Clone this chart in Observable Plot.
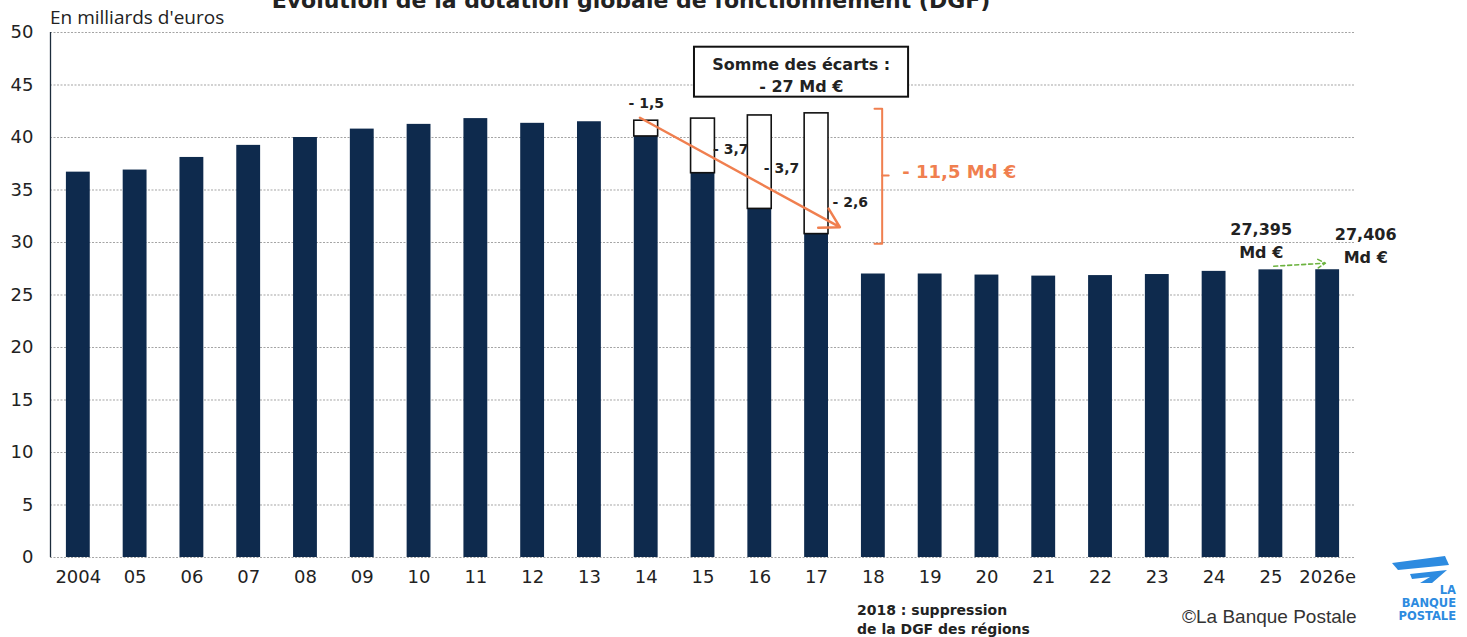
<!DOCTYPE html>
<html>
<head>
<meta charset="utf-8">
<script src="https://cdn.jsdelivr.net/npm/d3@7"></script>
<script src="https://cdn.jsdelivr.net/npm/@observablehq/plot@0.6"></script>
<style>
  html, body { margin: 0; padding: 0; background: #fff; }
  #wrap { position: relative; width: 1467px; height: 637px; overflow: hidden; background: #fff; }
  #wrap > svg { position: absolute; left: 0; top: 0; }
</style>
</head>
<body>
<div id="wrap"></div>
<script>
// ---- Data ----
const labels = ["2004","05","06","07","08","09","10","11","12","13","14","15","16","17","18","19","20","21","22","23","24","25","2026e"];
const dgf = [36.7, 36.9, 38.1, 39.25, 40.0, 40.8, 41.25, 41.8, 41.35, 41.5, 40.1, 36.6, 33.2, 30.8, 27.0, 27.0, 26.9, 26.8, 26.85, 26.95, 27.25, 27.395, 27.406];
const cutYears = ["14", "15", "16", "17"];
const beforeCut = [41.6, 41.8, 42.1, 42.3];
const cutLabels = ["- 1,5", "- 3,7", "- 3,7", "- 2,6"];
const yTicks = [0, 5, 10, 15, 20, 25, 30, 35, 40, 45, 50];
const sumText = "Somme des écarts :\n- 27 Md €";
const totalCutText = "- 11,5 Md €";
const label2025 = "27,395\nMd €";
const label2026 = "27,406\nMd €";

const rows = labels.map((label, i) => ({i, label, value: dgf[i]}));
const cuts = cutYears.map((y, k) => {
  const i = labels.indexOf(y);
  return {i, low: dgf[i], high: beforeCut[k], label: cutLabels[k]};
});

const navy = "#0e2a4d";
const orange = "#f07f4f";
const green = "#6cb33f";
const ink = "#222";
const xMin = -0.49, xMax = 22.49;
const half = 0.21;
const bold = {fontFamily: "DejaVu Sans", fontWeight: "bold", fill: ink};

const chart = Plot.plot({
  width: 1467,
  height: 637,
  marginLeft: 50,
  marginRight: 112,
  marginTop: 32,
  marginBottom: 80,
  style: {fontFamily: "DejaVu Sans", fontSize: "18px", color: ink, background: "transparent", overflow: "visible"},
  x: {domain: [xMin, xMax], label: null},
  y: {domain: [0, 50], label: null},
  marks: [
    Plot.gridY({ticks: yTicks, stroke: "#9a9a9a", strokeOpacity: 0.9, strokeWidth: 1, strokeDasharray: "2,1.5"}),
    Plot.axisY({ticks: yTicks, tickSize: 0, tickPadding: 17, fontSize: 18, fill: ink, label: null}),
    Plot.axisX({ticks: d3.range(labels.length), tickFormat: i => labels[i], tickSize: 0, tickPadding: 13, fontSize: 18, fill: ink, label: null}),
    Plot.ruleX([xMin], {y1: 0, y2: 50, stroke: "#1c2c3c", strokeWidth: 1.3}),
    Plot.rectY(rows, {x1: d => d.i - half, x2: d => d.i + half, y: "value", fill: navy}),
    Plot.rect(cuts, {x1: d => d.i - half, x2: d => d.i + half, y1: "low", y2: "high", fill: "white", stroke: "#111", strokeWidth: 1.6}),
    // gap labels
    Plot.text([cuts[0]], {x: "i", y: 43.24, text: "label", fontSize: 14, ...bold}),
    Plot.text([cuts[1]], {x: "i", y: 38.9, text: "label", fontSize: 14, textAnchor: "start", dx: 10, ...bold}),
    Plot.text([cuts[2]], {x: "i", y: 37.0, text: "label", fontSize: 14, textAnchor: "start", dx: 4, ...bold}),
    Plot.text([cuts[3]], {x: "i", y: 33.85, text: "label", fontSize: 14, textAnchor: "start", dx: 16, ...bold}),
    // orange arrow
    Plot.arrow([{}], {x1: 9.89, y1: 41.88, x2: 13.41, y2: 31.46, stroke: orange, strokeWidth: 2.5, headLength: 13}),
    // sum box
    Plot.rect([{}], {x1: 10.85, x2: 14.62, y1: 43.84, y2: 48.6, fill: "white", stroke: "#111", strokeWidth: 2}),
    Plot.text([sumText], {x: 12.73, y: 46.05, text: d => d, fontSize: 16, lineHeight: 1.35, ...bold}),
    // orange bracket
    Plot.line([[14.02, 42.73], [14.155, 42.73], [14.155, 29.88], [14.02, 29.88]], {stroke: orange, strokeWidth: 2}),
    Plot.line([[14.155, 36.38], [14.27, 36.38]], {stroke: orange, strokeWidth: 2}),
    Plot.text([totalCutText], {x: 14.51, y: 36.7, text: d => d, textAnchor: "start", fontSize: 18, fontFamily: "DejaVu Sans", fontWeight: "bold", fill: orange}),
    // last values
    Plot.text([label2025], {x: 20.83, y: 30.32, text: d => d, fontSize: 16, lineHeight: 1.42, ...bold}),
    Plot.text([label2026], {x: 22.67, y: 29.84, text: d => d, fontSize: 16, lineHeight: 1.42, ...bold}),
    Plot.arrow([{}], {x1: 21.05, y1: 27.74, x2: 21.96, y2: 28.03, stroke: green, strokeWidth: 1.6, strokeDasharray: "4,3", headLength: 8})
  ]
});

const wrap = document.getElementById("wrap");
wrap.appendChild(chart);

// ---- Overlay texts (title, unit, notes, source, logo) ----
const ov = d3.select(wrap).append("svg")
  .attr("width", 1467).attr("height", 637)
  .style("pointer-events", "none");

ov.append("text").attr("x", 631).attr("y", 8).attr("text-anchor", "middle")
  .attr("font-family", "DejaVu Sans").attr("font-weight", "bold").attr("font-size", 22).attr("fill", ink)
  .text("Évolution de la dotation globale de fonctionnement (DGF)");

ov.append("text").attr("x", 50).attr("y", 24)
  .attr("font-family", "Open Sans").attr("font-size", 19).attr("fill", ink)
  .text("En milliards d'euros");

const note = ov.append("text").attr("font-family", "DejaVu Sans").attr("font-weight", "bold").attr("font-size", 14).attr("fill", ink);
note.append("tspan").attr("x", 857).attr("y", 615).text("2018 : suppression");
note.append("tspan").attr("x", 857).attr("y", 634).text("de la DGF des régions");

ov.append("text").attr("x", 1182).attr("y", 623)
  .attr("font-family", "Liberation Sans").attr("font-size", 19).attr("fill", "#333")
  .text("©La Banque Postale");

const blue = "#2d8be0";
const logo = ov.append("g");
logo.append("polygon").attr("points", "1392,563 1445,556 1449,565 1398,570").attr("fill", blue);
logo.append("polygon").attr("points", "1410,574 1447,570 1432,583 1420,583 1430,577 1412,579").attr("fill", blue);
const lt = logo.append("text").attr("font-family", "DejaVu Sans").attr("font-weight", "bold").attr("font-size", 11.5).attr("fill", blue).attr("text-anchor", "end");
lt.append("tspan").attr("x", 1456).attr("y", 594).text("LA");
lt.append("tspan").attr("x", 1456).attr("y", 607).text("BANQUE");
lt.append("tspan").attr("x", 1456).attr("y", 620).text("POSTALE");
</script>
</body>
</html>
